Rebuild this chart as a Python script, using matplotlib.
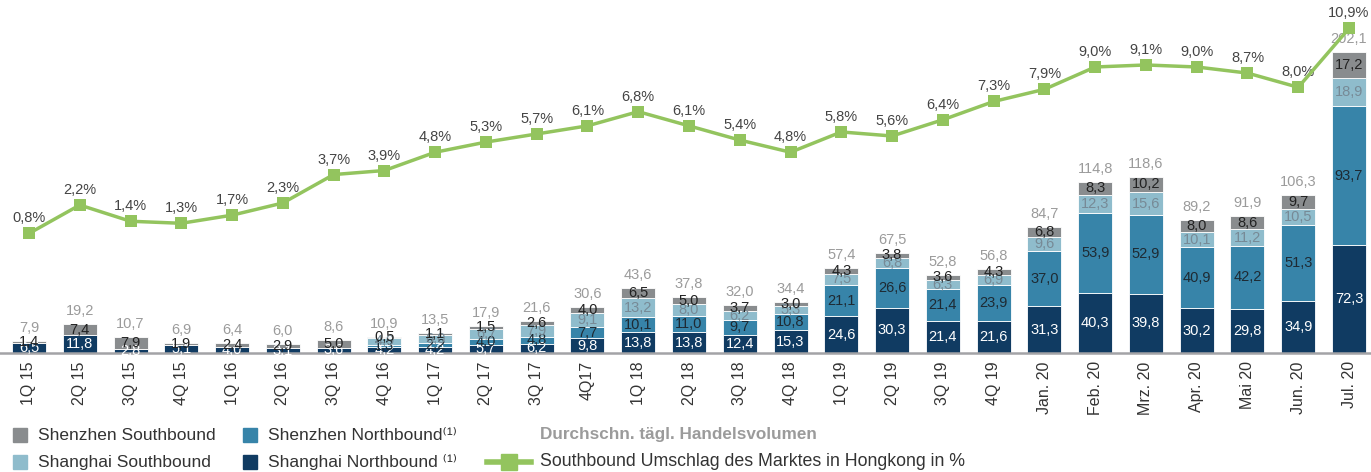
import matplotlib
matplotlib.use("Agg")
import matplotlib.pyplot as plt
from matplotlib.patches import Rectangle
from matplotlib.lines import Line2D
import numpy as np

plt.rcParams['font.family'] = ['Liberation Sans', 'DejaVu Sans']

categories = ["1Q 15", "2Q 15", "3Q 15", "4Q 15", "1Q 16", "2Q 16", "3Q 16", "4Q 16",
              "1Q 17", "2Q 17", "3Q 17", "4Q17", "1Q 18", "2Q 18", "3Q 18", "4Q 18",
              "1Q 19", "2Q 19", "3Q 19", "4Q 19", "Jan. 20", "Feb. 20", "Mrz. 20",
              "Apr. 20", "Mai 20", "Jun. 20", "Jul. 20"]

shanghai_north = [6.5, 11.8, 2.8, 5.1, 4.0, 3.1, 3.6, 4.2, 4.2, 5.7, 6.2, 9.8, 13.8, 13.8,
                  12.4, 15.3, 24.6, 30.3, 21.4, 21.6, 31.3, 40.3, 39.8, 30.2, 29.8, 34.9, 72.3]
shenzhen_north = [0, 0, 0, 0, 0, 0, 0, 1.3, 2.2, 4.0, 4.8, 7.7, 10.1, 11.0,
                  9.7, 10.8, 21.1, 26.6, 21.4, 23.9, 37.0, 53.9, 52.9, 40.9, 42.2, 51.3, 93.7]
shanghai_south = [0, 0, 0, 0, 0, 0, 0, 4.9, 6.0, 6.7, 7.9, 9.1, 13.2, 8.0,
                  6.2, 5.3, 7.5, 6.8, 6.3, 6.9, 9.6, 12.3, 15.6, 10.1, 11.2, 10.5, 18.9]
shenzhen_south = [1.4, 7.4, 7.9, 1.9, 2.4, 2.9, 5.0, 0.5, 1.1, 1.5, 2.6, 4.0, 6.5, 5.0,
                  3.7, 3.0, 4.3, 3.8, 3.6, 4.3, 6.8, 8.3, 10.2, 8.0, 8.6, 9.7, 17.2]
totals = [7.9, 19.2, 10.7, 6.9, 6.4, 6.0, 8.6, 10.9, 13.5, 17.9, 21.6, 30.6, 43.6, 37.8,
          32.0, 34.4, 57.4, 67.5, 52.8, 56.8, 84.7, 114.8, 118.6, 89.2, 91.9, 106.3, 202.1]
turnover_pct = [0.8, 2.2, 1.4, 1.3, 1.7, 2.3, 3.7, 3.9, 4.8, 5.3, 5.7, 6.1, 6.8, 6.1,
                5.4, 4.8, 5.8, 5.6, 6.4, 7.3, 7.9, 9.0, 9.1, 9.0, 8.7, 8.0, 10.9]

series = [
    ("Shanghai Northbound", shanghai_north, "#103b62", "white"),
    ("Shenzhen Northbound", shenzhen_north, "#3784a9", "#1e2a33"),
    ("Shanghai Southbound", shanghai_south, "#8fbccc", "#778a96"),
    ("Shenzhen Southbound", shenzhen_south, "#898c8e", "#222222"),
]
green = "#93c45e"

def fmt(v):
    return f"{v:.1f}".replace(".", ",")

W, H = 1371, 472
fig = plt.figure(figsize=(W / 100, H / 100), dpi=100)
ax = fig.add_axes([0, 1 - 353 / H, 1, 353 / H])
x = np.arange(len(categories))
ax.set_xlim(-0.571, 26.433)
ax.set_ylim(0, 237.4)

bottom = np.zeros(len(categories))
for name, vals, col, tcol in series:
    vals = np.array(vals, dtype=float)
    ax.bar(x, vals, 0.67, bottom=bottom, color=col, edgecolor="white", linewidth=0.6, zorder=2)
    for i, v in enumerate(vals):
        if v > 0:
            ax.text(x[i], bottom[i] + v / 2, fmt(v), ha="center", va="center",
                    color=tcol, fontsize=10.5, zorder=4)
    bottom += vals

for i, t in enumerate(totals):
    ax.annotate(fmt(t), (x[i], bottom[i]), xytext=(0, 13), textcoords="offset pixels",
                ha="center", va="center", color="#9b9b9b", fontsize=10.5, zorder=4)

for s in ["top", "right", "left"]:
    ax.spines[s].set_visible(False)
ax.spines["bottom"].set_color("#a3a3a6")
ax.spines["bottom"].set_linewidth(1.8)
ax.set_yticks([])
ax.set_xticks(x)
ax.set_xticklabels(categories, rotation=90, fontsize=11.5, color="#333333")
ax.tick_params(axis="x", length=0, pad=6)

ax2 = ax.twinx()
ax2.set_ylim(-5.09, 12.30)
ax2.plot(x, turnover_pct, color=green, linewidth=2.5, marker="s", markersize=8.5,
         markeredgewidth=0, zorder=5)
for i, p in enumerate(turnover_pct):
    ax2.annotate(fmt(p) + "%", (x[i], p), xytext=(0, 15), textcoords="offset pixels",
                 ha="center", va="center", color="#444444", fontsize=10.5)
ax2.axis("off")

# legend
def fx(px):
    return px / W

def fy(py):
    return 1 - py / H

sq = 14
items = [
    (20, 435, "#898c8e", "Shenzhen Southbound"),
    (20, 462, "#8fbccc", "Shanghai Southbound"),
    (250, 435, "#3784a9", "Shenzhen Northbound⁽¹⁾"),
    (250, 462, "#103b62", "Shanghai Northbound ⁽¹⁾"),
]
for cx, cy, col, lab in items:
    fig.patches.append(Rectangle((fx(cx - sq / 2), fy(cy + sq / 2)), sq / W, sq / H,
                                 transform=fig.transFigure, color=col))
    fig.text(fx(cx + 18), fy(cy), lab, ha="left", va="center", fontsize=12.5, color="#333333")

fig.lines.append(Line2D([fx(487), fx(531)], [fy(462), fy(462)], transform=fig.transFigure,
                        color=green, linewidth=4))
fig.patches.append(Rectangle((fx(509 - 8), fy(462 + 8)), 16 / W, 16 / H,
                             transform=fig.transFigure, color=green))
fig.text(fx(540), fy(435), "Durchschn. tägl. Handelsvolumen", ha="left", va="center",
         fontsize=12.3, fontweight="bold", color="#9b9b9b")
fig.text(fx(540), fy(462), "Southbound Umschlag des Marktes in Hongkong in %", ha="left",
         va="center", fontsize=12.8, color="#333333")

fig.savefig("out.png", dpi=100)
